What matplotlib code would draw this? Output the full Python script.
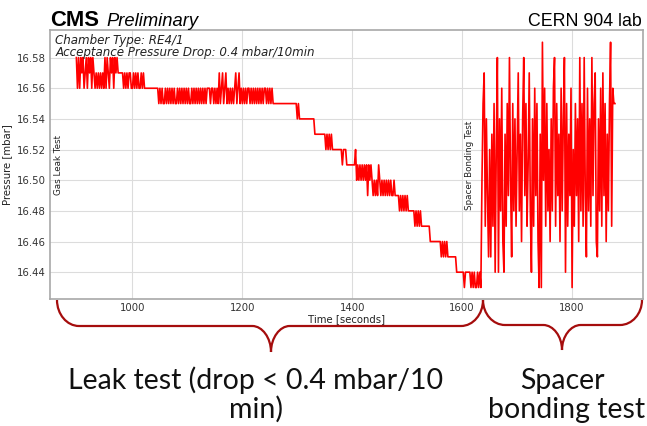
import numpy as np
import matplotlib
matplotlib.use("Agg")
import matplotlib.pyplot as plt
from matplotlib.path import Path
from matplotlib.patches import PathPatch
from matplotlib.transforms import Affine2D

# Pressure readings, one every 2 s, written as level codes:
# code index i -> 16.43 + 0.01*i mbar  ('0' = 16.43 ... 'g' = 16.59)
LEVEL_CODES = "0123456789abcdefg"
BASE_PRESSURE = 16.43
STEP = 0.01
T_START = 898      # seconds
DT = 2             # seconds between readings

leak_test_codes = (
    "fdfdfefdef" "dfefdfeded" "edededfdfe" "dfefdfef"       # 16.56-16.58
    + "e" * 5
    + "dededeedde" "dededdeded"
    + "d" * 12
    + "cdcdccdcdc" "dcdcdccdcd" "cdcdcdcdcc" "dcdcdcdcdc" "dcdcd"
    + "ddcdd"
    + "cdcdcecdec" "decdcdcdcd" "ecdecdcdcd" "cddcdcdcdc" "dcdcdcddcd" "cdcdc"
    + "c" * 21
    + "bcbb" + "b" * 12
    + "a" * 10
    + "9a9a9a9"
    + "9" * 8 + "8" + "999" + "8" * 8 + "9"
    + "7878787878" "68787"
    + "6767687676" "7676767667"
    + "6" * 4
    + "565656565"
    + "5" * 5
    + "4545454"
    + "4" * 7
    + "3" * 10
    + "232323"
    + "2" * 8
    + "1" * 7 + "0"
    + "11111" + "0101001010"
)

spacer_test_codes = (
    "7ce4b6292a" "4c19f1b5d3" "1a4c6f72c5" "b49e5a3bf6"
    "c48e51b4d6" "c30a0g7d4c" "593b5df4c6" "a3d5bf1c4a"
    "6d094c6b3f" "5c4f62d5b4" "f6ce32b5d4" "e6c3a5cg4dcc"
)

y_ticks = [16.44, 16.46, 16.48, 16.50, 16.52, 16.54, 16.56, 16.58]
x_ticks = [1000, 1200, 1400, 1600, 1800]

codes = leak_test_codes + spacer_test_codes
pressure = BASE_PRESSURE + STEP * np.array([LEVEL_CODES.index(c) for c in codes])
time = T_START + DT * np.arange(len(codes))

W, H = 647, 426
fig = plt.figure(figsize=(W / 100, H / 100), dpi=100)
ax = fig.add_axes([50 / W, 1 - 299 / H, (643 - 50) / W, (299 - 30) / H])

ax.plot(time, pressure, color="red", lw=1.2)

ax.set_xlim(850, 1929)
ax.set_ylim(16.4225, 16.598)
ax.set_xticks(x_ticks)
ax.set_yticks(y_ticks)
ax.set_yticklabels([f"{v:.2f}" for v in y_ticks])
ax.grid(True, color="#dcdcdc", lw=0.8)
ax.set_axisbelow(True)
ax.tick_params(length=0, labelsize=7.3, labelcolor="#333333", pad=3)
for s in ax.spines.values():
    s.set_color("#a8a8a8")
    s.set_linewidth(1.2)

ax.set_xlabel("Time [seconds]", fontsize=7.3, color="#222222", labelpad=1)
ax.set_ylabel("Pressure [mbar]", fontsize=7.3, color="#222222", labelpad=3)

ax.text(0.009, 0.985,
        "Chamber Type: RE4/1\nAcceptance Pressure Drop: 0.4 mbar/10min",
        transform=ax.transAxes, style="italic", fontsize=8.6,
        color="#222222", va="top", linespacing=0.92)
ax.text(866, 16.51, "Gas Leak Test", rotation=90, fontsize=6.3,
        ha="center", va="center", color="#222222")
ax.text(1614, 16.51, "Spacer Bonding Test", rotation=90, fontsize=6.3,
        ha="center", va="center", color="#222222")

# header
fig.text(50 / W, 1 - 26 / H, "CMS", family="Liberation Sans",
         weight="bold", fontsize=15.8, va="baseline")
fig.text(106 / W, 1 - 26 / H, "Preliminary", family="Liberation Sans",
         style="italic", fontsize=13.2, va="baseline")
fig.text(642 / W, 1 - 26 / H, "CERN 904 lab", family="Liberation Sans",
         fontsize=12.8, ha="right", va="baseline")

# curly braces under the time axis (pixel coordinates, y downward)
px = Affine2D().scale(1 / W, -1 / H).translate(0, 1) + fig.transFigure


def brace(x0, x1, xm, y_top, y_mid, y_tip, r=22):
    verts = [
        (x0, y_top),
        (x0, y_top + 0.55 * (y_mid - y_top)), (x0 + 0.45 * r, y_mid), (x0 + r, y_mid),
        (xm - r * 0.85, y_mid),
        (xm - 0.4 * r, y_mid), (xm, y_tip - 0.55 * (y_tip - y_mid)), (xm, y_tip),
        (xm, y_tip - 0.55 * (y_tip - y_mid)), (xm + 0.4 * r, y_mid), (xm + r * 0.85, y_mid),
        (x1 - r, y_mid),
        (x1 - 0.45 * r, y_mid), (x1, y_top + 0.55 * (y_mid - y_top)), (x1, y_top),
    ]
    codes_ = [Path.MOVETO,
              Path.CURVE4, Path.CURVE4, Path.CURVE4,
              Path.LINETO,
              Path.CURVE4, Path.CURVE4, Path.CURVE4,
              Path.CURVE4, Path.CURVE4, Path.CURVE4,
              Path.LINETO,
              Path.CURVE4, Path.CURVE4, Path.CURVE4]
    fig.add_artist(PathPatch(Path(verts, codes_), transform=px, fill=False,
                             edgecolor="#a50d0d", lw=1.6, clip_on=False))


brace(57, 483, 271, 300, 326, 352)
brace(483, 642, 562, 300, 325, 350)

label_kw = dict(family="Lato", fontsize=20.5, color="#111111",
                ha="center", va="baseline", transform=px)
fig.text(256, 389, "Leak test (drop < 0.4 mbar/10", **label_kw)
fig.text(256, 418, "min)", **label_kw)
fig.text(562, 389, "Spacer", **label_kw)
fig.text(567, 418, "bonding test", **label_kw)

fig.savefig("out.png", dpi=100)
